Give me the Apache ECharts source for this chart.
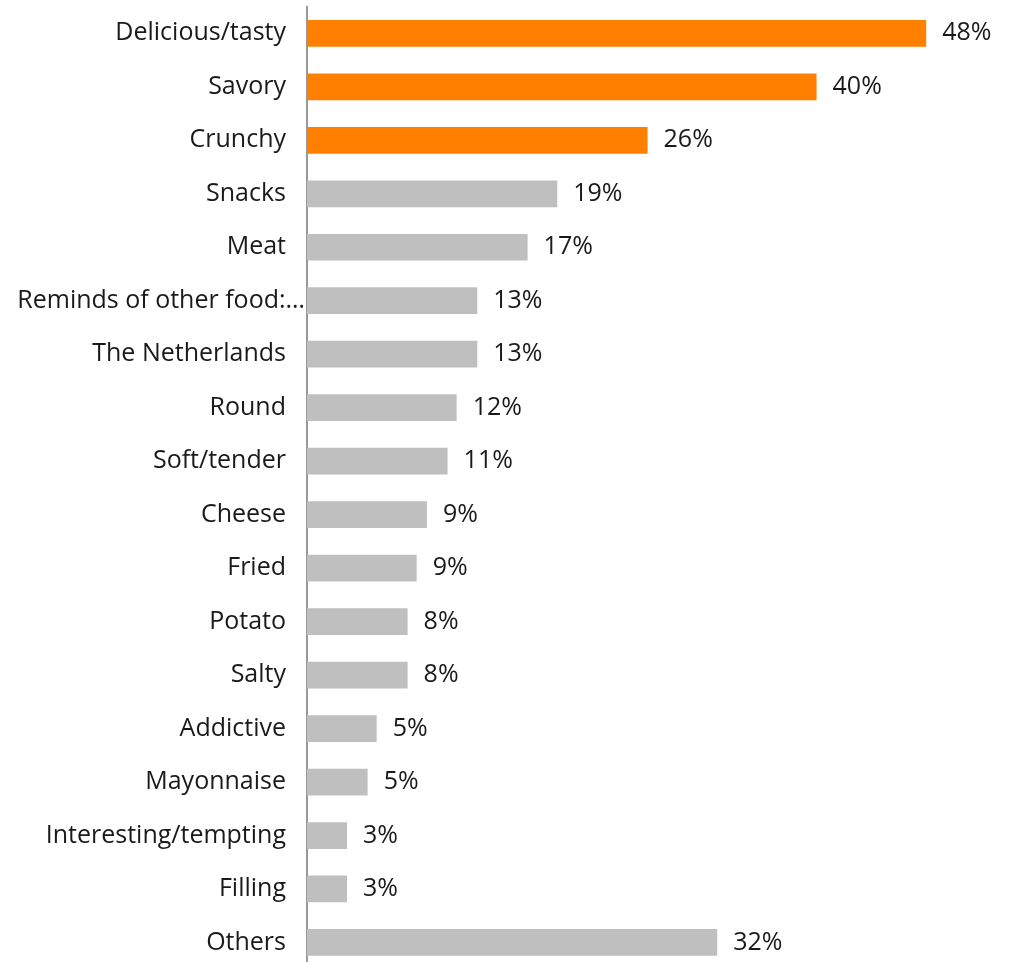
<!DOCTYPE html>
<html>
<head>
<meta charset="utf-8">
<script src="https://cdn.jsdelivr.net/npm/echarts@6/dist/echarts.min.js"></script>
<style>
  html, body { margin: 0; padding: 0; background: #fff; overflow: hidden; }
  #main { width: 1010px; height: 970px; }
</style>
</head>
<body>
<div id="main"></div>
<script>
// categories, top to bottom
var categories = ['Delicious/tasty', 'Savory', 'Crunchy', 'Snacks', 'Meat',
  'Reminds of other food:…', 'The Netherlands', 'Round', 'Soft/tender', 'Cheese',
  'Fried', 'Potato', 'Salty', 'Addictive', 'Mayonnaise', 'Interesting/tempting',
  'Filling', 'Others']
// share of mentions (%)
var values = [48.0, 39.5, 26.4, 19.4, 17.1, 13.2, 13.2, 11.6, 10.9, 9.3,
  8.5, 7.8, 7.8, 5.4, 4.7, 3.1, 3.1, 31.8]
// labels printed next to the bars
var valueLabels = ['48%', '40%', '26%', '19%', '17%', '13%', '13%', '12%', '11%', '9%',
  '9%', '8%', '8%', '5%', '5%', '3%', '3%', '32%']
var highlighted = 3 // first three bars are orange

var myChart = echarts.init(document.getElementById('main'))

// the long truncated label runs on up to the axis line
var yData = categories.map(function (c) {
  if (c.indexOf('…') >= 0) {
    return { value: c, textStyle: { padding: [0, -19, 0, 0] } }
  }
  return c
})

var option = {
  animation: false,
  textStyle: { fontFamily: 'Open Sans' },
  grid: {
    left: 307,
    top: 6.6,
    height: 962.6,
    width: 645
  },
  xAxis: {
    type: 'value',
    min: 0,
    max: 50,
    show: false
  },
  yAxis: {
    type: 'category',
    inverse: true,
    data: yData,
    axisLine: { show: true, lineStyle: { color: '#999999', width: 2 } },
    axisTick: { show: false },
    axisLabel: {
      margin: 21,
      fontSize: 25,
      color: '#1a1a1a',
      fontFamily: 'Open Sans'
    }
  },
  series: [
    {
      type: 'bar',
      barCategoryGap: '50%',
      data: values.map(function (v, i) {
        return {
          value: v,
          itemStyle: { color: i < highlighted ? '#ff7f00' : '#bfbfbf' }
        }
      }),
      label: {
        show: true,
        position: 'right',
        distance: 16,
        fontSize: 25,
        color: '#1a1a1a',
        fontFamily: 'Open Sans',
        formatter: function (p) { return valueLabels[p.dataIndex] }
      }
    }
  ]
}

myChart.setOption(option)
</script>
</body>
</html>
